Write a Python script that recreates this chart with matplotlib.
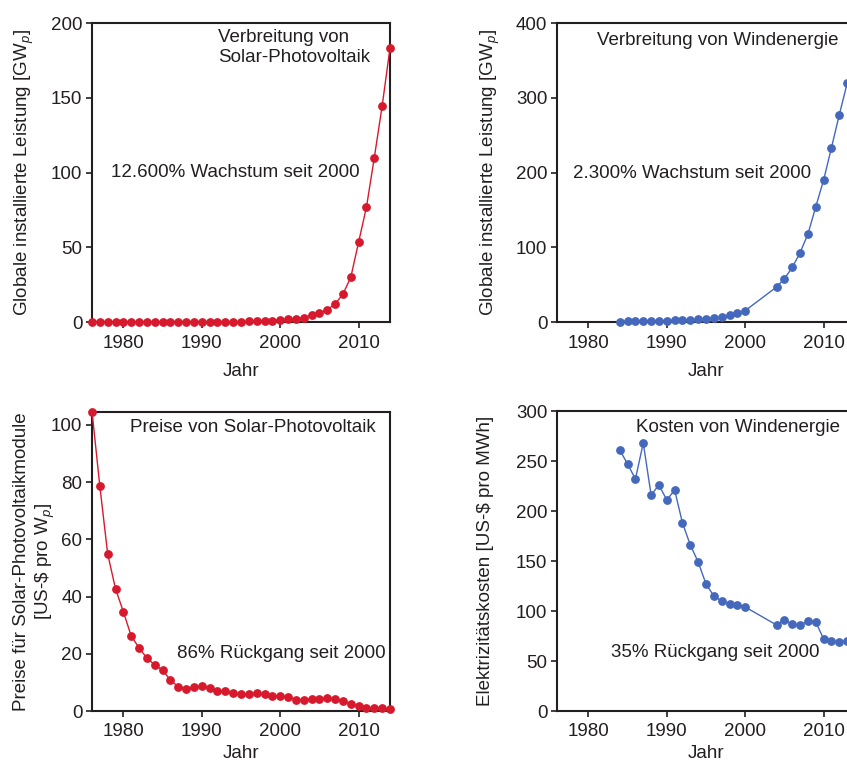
import matplotlib
matplotlib.use("Agg")
import matplotlib.pyplot as plt

plt.rcParams['font.family'] = ['Liberation Sans', 'DejaVu Sans']
plt.rcParams['mathtext.fontset'] = 'custom'
plt.rcParams['mathtext.rm'] = 'Liberation Sans'
plt.rcParams['mathtext.it'] = 'Liberation Sans:italic'

# Solar PV: installed capacity (GWp), 1976-2014
pv_years = list(range(1976, 2015))
pv_capacity = [0.0003, 0.0005, 0.001, 0.002, 0.003, 0.005, 0.008, 0.012, 0.02, 0.03,
               0.04, 0.05, 0.07, 0.09, 0.11, 0.14, 0.17, 0.2, 0.26, 0.33,
               0.4, 0.5, 0.7, 1.0, 1.4, 1.8, 2.3, 3.0, 4.5, 6.0,
               8.2, 12.0, 18.7, 29.9, 53.5, 76.9, 110.0, 144.5, 183.3]

# Wind: installed capacity (GW)
wind_years = list(range(1984, 2001)) + list(range(2004, 2014))
wind_capacity = [0.6, 1.0, 1.3, 1.5, 1.6, 1.8, 2.0, 2.2, 2.5, 3.0,
                 3.5, 4.5, 5.4, 6.2, 8.9, 11.6, 15.2,
                 46.8, 58.0, 73.0, 92.8, 117.7, 154.3, 190.0, 233.2, 277.4, 319.3]

# Solar PV module prices (US-$ per Wp)
pv_price_years = list(range(1976, 2015))
pv_price = [104.7, 78.6, 54.9, 42.7, 34.7, 26.2, 22.1, 18.5, 16.1, 14.3,
            10.8, 8.5, 7.7, 8.3, 8.7, 7.9, 7.1, 7.0, 6.4, 5.8,
            5.9, 6.2, 5.8, 5.1, 5.1, 5.0, 4.0, 3.8, 4.1, 4.3,
            4.5, 4.3, 3.5, 2.4, 1.7, 1.2, 0.9, 0.9, 0.7]

# Wind electricity cost (US-$ per MWh)
wind_cost_years = list(range(1984, 2001)) + list(range(2004, 2014))
wind_cost = [261, 247, 232, 268, 216, 226, 211, 221, 188, 166,
             149, 127, 115, 110, 107, 106, 104,
             86, 91, 87, 86, 90, 89, 72, 70, 69, 70]

red = '#D7192D'
blue = '#4468BC'
ink = '#231F20'
fs = 13.5

fig = plt.figure(figsize=(8.47, 7.62), dpi=100)
W, H = 847, 762


def make_ax(x0, y0, x1, y1, xpad):
    # axes given in pixel box of the reference picture
    ax = fig.add_axes([x0 / W, 1 - y1 / H, (x1 - x0) / W, (y1 - y0) / H])
    for s in ax.spines.values():
        s.set_linewidth(1.5)
        s.set_color(ink)
    ax.tick_params(direction='out', length=4, width=1.2, color=ink,
                   labelcolor=ink, labelsize=fs, top=False, right=False)
    ax.tick_params(axis='x', pad=5)
    ax.tick_params(axis='y', pad=3)
    ax.set_xlim(1976, 2014)
    ax.set_xticks([1980, 1990, 2000, 2010])
    ax.set_xlabel('Jahr', fontsize=fs, color=ink, labelpad=xpad)
    return ax


kw = dict(marker='o', markersize=5.3, linewidth=1.0, clip_on=False, zorder=3)

# top left
ax1 = make_ax(92, 23, 390, 322, 8.5)
ax1.plot(pv_years, pv_capacity, color=red, **kw)
ax1.set_ylim(0, 200)
ax1.set_yticks([0, 50, 100, 150, 200])
ax1.set_ylabel('Globale installierte Leistung [GW$_p$]', fontsize=fs, color=ink,
               labelpad=10.5)
ax1.text(1992.1, 195.7, 'Verbreitung von\nSolar-Photovoltaik', fontsize=fs, color=ink,
         ha='left', va='top', linespacing=1.2)
ax1.text(1978.4, 100, '12.600% Wachstum seit 2000', fontsize=fs, color=ink,
         ha='left', va='center')

# top right
ax2 = make_ax(557, 23, 855, 322, 8.5)
ax2.plot(wind_years, wind_capacity, color=blue, **kw)
ax2.set_ylim(0, 400)
ax2.set_yticks([0, 100, 200, 300, 400])
ax2.set_ylabel('Globale installierte Leistung [GW$_p$]', fontsize=fs, color=ink,
               labelpad=10)
ax2.text(1981.1, 377, 'Verbreitung von Windenergie', fontsize=fs, color=ink,
         ha='left', va='center')
ax2.text(1978.1, 198, '2.300% Wachstum seit 2000', fontsize=fs, color=ink,
         ha='left', va='center')

# bottom left
ax3 = make_ax(92, 411.5, 390, 711, 3.5)
ax3.plot(pv_price_years, pv_price, color=red, **kw)
ax3.set_ylim(0, 104.7)
ax3.set_yticks([0, 20, 40, 60, 80, 100])
ax3.set_ylabel('Preise für Solar-Photovoltaikmodule', fontsize=fs, color=ink,
               labelpad=15)
# second line of the y label, kept apart so it stays clear of the tick labels
ax3.text(-0.156, 0.5, '[US-\\$ pro W$_p$]', transform=ax3.transAxes, fontsize=fs,
         color=ink, rotation=90, ha='center', va='center')
ax3.text(1980.85, 99.2, 'Preise von Solar-Photovoltaik', fontsize=fs, color=ink,
         ha='left', va='center')
ax3.text(1986.8, 20.2, '86% Rückgang seit 2000', fontsize=fs, color=ink,
         ha='left', va='center')

# bottom right
ax4 = make_ax(557, 411, 855, 711, 3.5)
ax4.plot(wind_cost_years, wind_cost, color=blue, **kw)
ax4.set_ylim(0, 300)
ax4.set_yticks([0, 50, 100, 150, 200, 250, 300])
ax4.set_ylabel('Elektrizitätskosten [US-\\$ pro MWh]', fontsize=fs, color=ink,
               labelpad=16)
ax4.text(1986.1, 283, 'Kosten von Windenergie', fontsize=fs, color=ink,
         ha='left', va='center')
ax4.text(1982.9, 58.3, '35% Rückgang seit 2000', fontsize=fs, color=ink,
         ha='left', va='center')

fig.savefig('out.png', dpi=100)
